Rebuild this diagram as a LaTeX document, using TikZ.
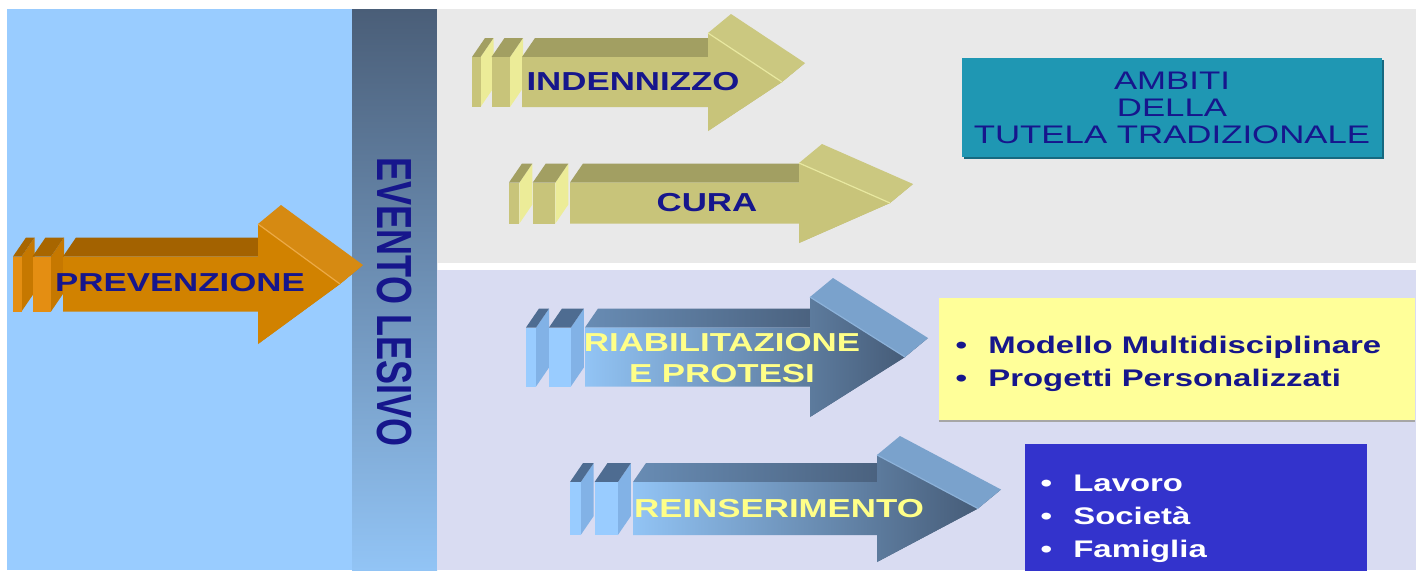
\documentclass[tikz,border=0pt]{standalone}
\usepackage{fontspec}
\setmainfont{Liberation Sans}
\usetikzlibrary{calc,shadows}

\definecolor{panelL}{RGB}{153,204,255}
\definecolor{barTop}{RGB}{74,94,120}
\definecolor{barBot}{RGB}{146,196,245}
\definecolor{panelT}{RGB}{233,233,233}
\definecolor{panelB}{RGB}{217,220,242}
\definecolor{navy}{RGB}{22,22,140}
\definecolor{lemon}{RGB}{255,255,136}
\definecolor{tealBox}{RGB}{31,151,179}
\definecolor{tealShade}{RGB}{22,105,128}
\definecolor{yelBox}{RGB}{255,255,153}
\definecolor{bluBox}{RGB}{51,51,204}
% orange arrow
\definecolor{oraFront}{RGB}{209,130,0}
\definecolor{oraBodyTop}{RGB}{163,98,0}
\definecolor{oraHeadTop}{RGB}{214,138,18}
\definecolor{oraHeadSide}{RGB}{200,124,0}
\definecolor{oraSlabFront}{RGB}{228,142,18}
\definecolor{oraSlabSide}{RGB}{198,120,0}
\definecolor{oraSlabTop}{RGB}{168,102,0}
\definecolor{oraEdge}{RGB}{236,170,70}
% olive arrows
\definecolor{oliFront}{RGB}{200,196,122}
\definecolor{oliBodyTop}{RGB}{162,159,98}
\definecolor{oliHeadTop}{RGB}{203,200,128}
\definecolor{oliHeadSide}{RGB}{190,186,112}
\definecolor{oliSlabFront}{RGB}{200,196,122}
\definecolor{oliSlabSide}{RGB}{236,236,152}
\definecolor{oliSlabTop}{RGB}{162,159,98}
\definecolor{oliEdge}{RGB}{232,232,160}
% blue arrows
\definecolor{bluFrontL}{RGB}{146,196,245}
\definecolor{bluFrontR}{RGB}{70,92,120}
\definecolor{bluBodyTopL}{RGB}{104,140,180}
\definecolor{bluBodyTopR}{RGB}{72,94,122}
\definecolor{bluHeadTop}{RGB}{122,162,204}
\definecolor{bluHeadSide}{RGB}{74,96,126}
\definecolor{bluSlabFront}{RGB}{153,204,255}
\definecolor{bluSlabSide}{RGB}{130,178,230}
\definecolor{bluSlabTop}{RGB}{78,108,145}
\definecolor{bluEdge}{RGB}{140,178,218}

\tikzset{
  ora front/.style={fill=oraFront},
  ora bodytop/.style={fill=oraBodyTop},
  oli front/.style={fill=oliFront},
  oli bodytop/.style={fill=oliBodyTop},
  blu front/.style={left color=bluFrontL,right color=bluFrontR},
  blu bodytop/.style={left color=bluBodyTopL,right color=bluBodyTopR},
  lbl/.style={font=\fontsize{13}{15.5}\selectfont\bfseries,text=#1,xscale=1.34,inner sep=0pt,align=center},
  lbl/.default=navy,
  item/.style={font=\fontsize{12}{14}\selectfont\bfseries,text=#1,xscale=1.37,inner sep=0pt,anchor=base west},
  panelbox/.style={fill=#1,inner sep=0pt}
}

\newcommand{\bul}{•\hspace{0.65em}}

% striped 3D arrow: x0, yc, body start, head base, tip, body half height, head half height, colour set
\newcommand{\striparrow}[8]{%
  \begin{scope}[shift={(#1,#2)}]
    \pgfmathsetmacro{\stA}{0.17*#3}
    \pgfmathsetmacro{\stB}{0.39*#3}
    \pgfmathsetmacro{\stC}{0.76*#3}
    \foreach \lft/\rgt in {0/\stA,\stB/\stC}{
      \fill[#8SlabSide] (\rgt,-#6) -- ++(13,-19) -- ++(0,2*#6) -- (\rgt,#6) -- cycle;
      \fill[#8SlabTop] (\lft,-#6) -- (\rgt,-#6) -- ++(13,-19) -- ++(\lft-\rgt,0) -- cycle;
      \fill[#8SlabFront] (\lft,-#6) rectangle (\rgt,#6);
    }
    \path[#8 bodytop] (#3,-#6) -- (#4,-#6) -- ++(23,-19) -- (#3+13,-#6-19) -- cycle;
    \fill[#8HeadSide] (#5,0) -- (#4,#7) -- ++(23,-19) -- (#5+23,-19) -- cycle;
    \fill[#8HeadTop] (#4,-#7) -- (#5,0) -- ++(23,-19) -- (#4+23,-#7-19) -- cycle;
    \path[#8 front] (#3,-#6) -- (#4,-#6) -- (#4,-#7) -- (#5,0) -- (#4,#7) -- (#4,#6) -- (#3,#6) -- cycle;
    \draw[#8Edge,line width=0.6pt] (#4,-#7) -- (#5,0);
  \end{scope}}

\begin{document}
\begin{tikzpicture}[x=0.5pt,y=-0.5pt]
\useasboundingbox (0,0) rectangle (1420,570);

%Shape: Rectangle [panels]
\fill[white] (0,0) rectangle (1420,570);
\fill[panelL] (7,9) rectangle (352,570);
\shade[top color=barTop,bottom color=barBot] (352,9) rectangle (437,570);
\fill[panelT] (437,9) rectangle (1416,263);
\fill[panelB] (437,270) rectangle (1416,570);

%Shape: Striped Arrows
\striparrow{13}{284}{50}{245}{327}{27.5}{60}{ora}
\striparrow{472}{82}{50}{236}{310}{25}{49}{oli}
\striparrow{509}{203}{61}{290}{381}{20.5}{40}{oli}
\striparrow{526}{357}{59}{284}{379}{29.5}{60}{blu}
\striparrow{570}{508.5}{63}{307}{408}{26.5}{53.5}{blu}

% Text Node
\node[font=\fontsize{18}{20}\selectfont\bfseries,text=navy,inner sep=0pt,xscale=1.37,rotate=-90] (evento) at (394,302) {EVENTO LESIVO};
\node[lbl] (prev) at (180,282.5) {PREVENZIONE};
\node[lbl] (indenn) at (633,82) {INDENNIZZO};
\node[lbl] (cura) at (707,203) {CURA};
\node[lbl=lemon] (riab) at (722,358) {RIABILITAZIONE\\E PROTESI};
\node[lbl=lemon] (reins) at (779,509) {REINSERIMENTO};

%Shape: Boxes
\node[panelbox=tealBox,minimum width=210pt,minimum height=49.5pt,drop shadow={shadow xshift=1.2pt,shadow yshift=-1.2pt,fill=tealShade,opacity=1}] (ambiti) at (1172,107.5) {};
\node[panelbox=yelBox,minimum width=238pt,minimum height=61pt,drop shadow={shadow xshift=0pt,shadow yshift=-1.2pt,fill=gray!70,opacity=1}] (modelli) at (1177,359) {};
\node[panelbox=bluBox,minimum width=171pt,minimum height=64pt] (ambiente) at (1196,508) {};

% Text Node
\node[font=\fontsize{12.7}{13.5}\selectfont,text=navy,xscale=1.37,inner sep=0pt,align=center] (ambtxt) at (ambiti.center) {AMBITI\\DELLA\\TUTELA TRADIZIONALE};
\node[item=navy] (modello) at (955,353) {\bul Modello Multidisciplinare};
\node[item=navy] (progetti) at (955,386) {\bul Progetti Personalizzati};
\node[item=white] (lavoro) at (1040,491) {\bul Lavoro};
\node[item=white] (societa) at (1040,524) {\bul Società};
\node[item=white] (famiglia) at (1040,557) {\bul Famiglia};

\end{tikzpicture}
\end{document}
